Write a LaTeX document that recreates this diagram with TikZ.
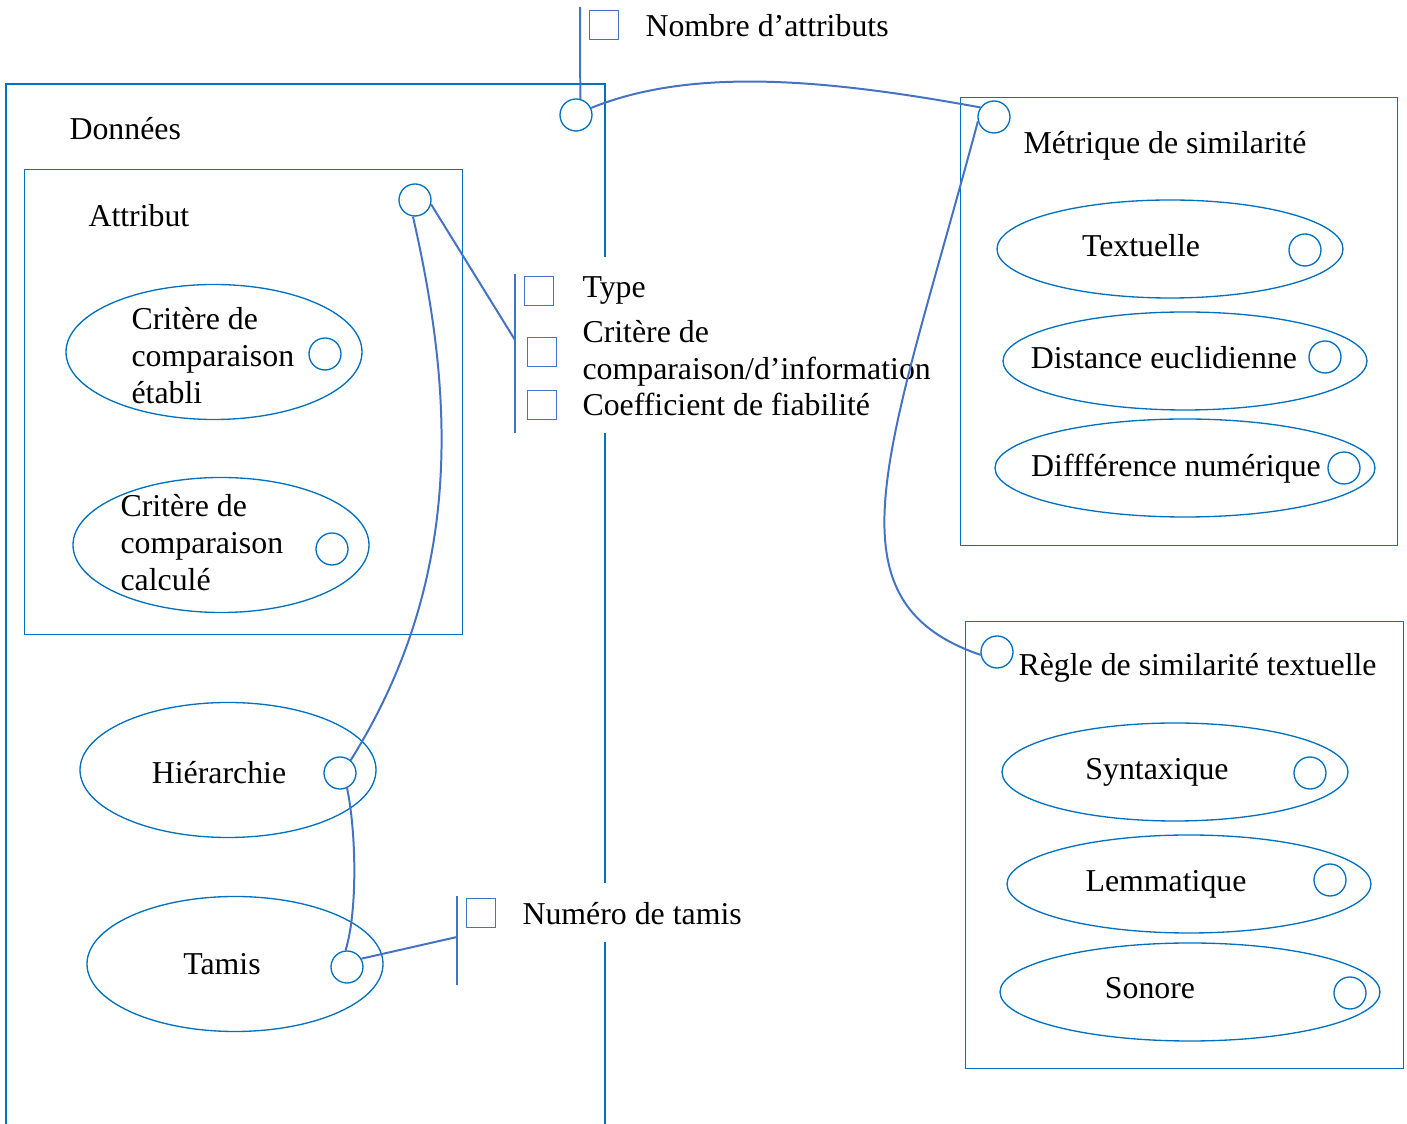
\documentclass[tikz,border=0pt]{standalone}
\usepackage{fontspec}
\setmainfont{Liberation Serif}
\usetikzlibrary{shapes.geometric}

\definecolor{shapeblue}{HTML}{0070C0}
\definecolor{linkblue}{HTML}{4472C4}
\newcommand{\pxu}{0.377pt}

\begin{document}
\begin{tikzpicture}[
    x=\pxu, y=-\pxu,
    font=\fontsize{12}{14}\selectfont,
    frame/.style={draw=shapeblue, line width=0.5pt, inner sep=0, anchor=north west},
    oval/.style={draw=shapeblue, ellipse, line width=0.5pt, inner sep=0},
    port/.style={draw=shapeblue, circle, line width=0.5pt, inner sep=0, minimum size={32*\pxu}},
    tick/.style={draw=linkblue, line width=0.5pt, inner sep=0, minimum size={29*\pxu}, anchor=north west},
    txt/.style={inner sep=0, anchor=base west},
    mid/.style={inner sep=0, anchor=base},
    link/.style={draw=linkblue, line width=0.75pt}
  ]
    \useasboundingbox (0,0) rectangle (1407,1124);

    % Donnees
    \draw[shapeblue, line width=0.5pt] (6,1124) |- (605,84) -- (605,1124);
    \node[txt] (donnees) at (69,140) {Données};
    \node[frame, minimum width={438*\pxu}, minimum height={465*\pxu}] (attrbox) at (24,169) {};
    \node[txt] (attribut) at (88,227) {Attribut};
    \node[port] (attrp) at (415,200) {};

    \node[oval, minimum width={296*\pxu}, minimum height={135*\pxu}] (etabli) at (214,352) {};
    \node[port] (etablip) at (325,354) {};
    \node[txt, align=left] (etablit) at (131,404) {Critère de\\comparaison\\établi};

    \node[oval, minimum width={296*\pxu}, minimum height={135*\pxu}] (calcule) at (221,545) {};
    \node[port] (calculep) at (332,549) {};
    \node[txt, align=left] (calculet) at (120,591) {Critère de\\comparaison\\calculé};

    \node[oval, minimum width={296*\pxu}, minimum height={135*\pxu}] (hier) at (228,770) {};
    \node[port] (hierp) at (340,773) {};
    \node[mid] (hiert) at (219,784) {Hiérarchie};

    \node[oval, minimum width={296*\pxu}, minimum height={135*\pxu}] (tamis) at (235,964) {};
    \node[port] (tamisp) at (347,967) {};
    \node[mid] (tamist) at (222,975) {Tamis};

    \node[port] (nbattr) at (576,115) {};
    \coordinate (nbtop) at (580,7);
    \node[tick] (nbbox) at (589,10) {};
    \node[txt] (nbtext) at (645,37) {Nombre d’attributs};

    % liste du type
    \fill[white] (570,257) rectangle (935,433);
    \coordinate (typetop) at (515,274);
    \coordinate (typejoin) at (515,340);
    \coordinate (typebot) at (515,433);
    \node[tick] (typebox) at (524,276) {};
    \node[tick] (critbox) at (527,337) {};
    \node[tick] (coefbox) at (527,390) {};
    \node[txt] (typet) at (582,298) {Type};
    \node[txt, align=left] (critt) at (582,380) {Critère de\\comparaison/d’information};
    \node[txt] (coeft) at (582,416) {Coefficient de fiabilité};

    \fill[white] (505,883) rectangle (760,942);
    \coordinate (numtop) at (457,896);
    \coordinate (numjoin) at (457,937);
    \coordinate (numbot) at (457,985);
    \node[tick] (numbox) at (466,898) {};
    \node[txt] (numt) at (522,925) {Numéro de tamis};

    % Metrique
    \node[frame, minimum width={437*\pxu}, minimum height={448*\pxu}] (metrbox) at (960,97) {};
    \node[port] (metr) at (994,117) {};
    \node[txt] (metrt) at (1023,154) {Métrique de similarité};

    \node[oval, minimum width={346*\pxu}, minimum height={98*\pxu}] (textu) at (1170,249) {};
    \node[port] (textup) at (1305,250) {};
    \node[mid] (textut) at (1141,257) {Textuelle};

    \node[oval, minimum width={364*\pxu}, minimum height={98*\pxu}] (dist) at (1185,361) {};
    \node[port] (distp) at (1325,357) {};
    \node[mid] (distt) at (1164,369) {Distance euclidienne};

    \node[oval, minimum width={380*\pxu}, minimum height={98*\pxu}] (diff) at (1185,468) {};
    \node[port] (diffp) at (1344,468) {};
    \node[mid] (difft) at (1176,477) {Diffférence numérique};

    % Regle
    \node[frame, minimum width={438*\pxu}, minimum height={447*\pxu}] (reglebox) at (965,621) {};
    \node[port] (reglep) at (997,652) {};
    \node[txt] (reglet) at (1018,676) {Règle de similarité textuelle};

    \node[oval, minimum width={346*\pxu}, minimum height={98*\pxu}] (synt) at (1175,772) {};
    \node[port] (syntp) at (1310,773) {};
    \node[mid] (syntt) at (1157,780) {Syntaxique};

    \node[oval, minimum width={364*\pxu}, minimum height={98*\pxu}] (lemm) at (1189,884) {};
    \node[port] (lemmp) at (1330,880) {};
    \node[mid] (lemmt) at (1166,892) {Lemmatique};

    \node[oval, minimum width={380*\pxu}, minimum height={98*\pxu}] (son) at (1190,992) {};
    \node[port] (sonp) at (1350,993) {};
    \node[mid] (sont) at (1150,999) {Sonore};

    % liens
    \draw[link] (nbattr.75) -- (nbtop);
    \draw[link] (nbattr.25) .. controls (690,68) and (820,78) .. (metr.145);
    \draw[link] (typetop) -- (typebot);
    \draw[link] (attrp.-15) -- (typejoin);
    \draw[link] (attrp.-97) .. controls (450,380) and (470,570) .. (hierp.50);
    \draw[link] (hierp.-65) .. controls (356,830) and (358,910) .. (tamisp.95);
    \draw[link] (numtop) -- (numbot);
    \draw[link] (tamisp.30) -- (numjoin);
    \draw[link] (metr.195) .. controls (890,450) and (820,600) .. (reglep.190);
  \end{tikzpicture}
\end{document}
